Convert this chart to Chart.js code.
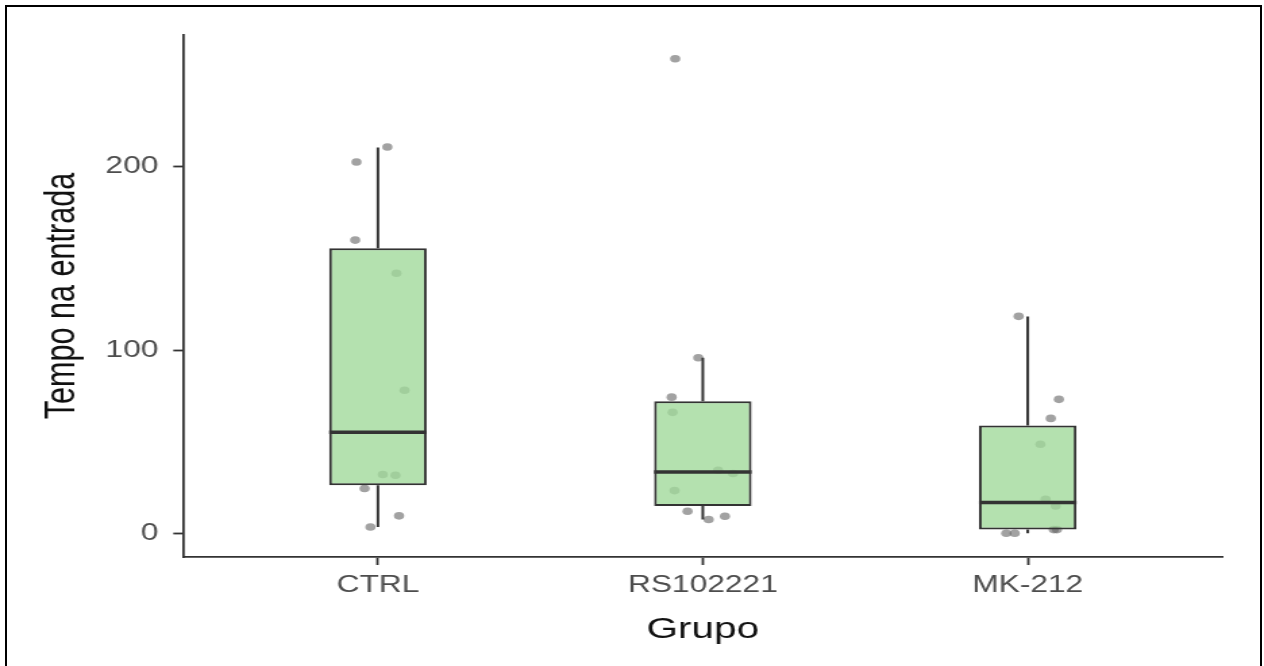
<!DOCTYPE html>
<html>
<head>
<meta charset="utf-8">
<script src="https://cdn.jsdelivr.net/npm/chart.js@4.4.0/dist/chart.umd.min.js"></script>
<style>
  html, body { margin: 0; padding: 0; background: #fff; overflow: hidden; }
  #wrap { position: absolute; left: 0; top: 0; width: 936px; height: 666px; transform: scaleX(1.3504); transform-origin: 0 0; }
  #frame { position: absolute; left: 5px; top: 5px; width: 1253px; height: 720px; border: 2px solid #000; }
</style>
</head>
<body>
<div id="wrap"><canvas id="myChart"></canvas></div>
<div id="frame"></div>
<script>
const grupos = ["CTRL", "RS102221", "MK-212"];
const yTicks = [0, 100, 200];

// tempo de cada animal e deslocamento horizontal (jitter)
const ctrlTempo = [210.8, 202.6, 160, 141.9, 78.1, 32.1, 31.7, 24.4, 9.5, 3.4];
const ctrlJitter = [0.029, -0.066, -0.07, 0.057, 0.082, 0.015, 0.054, -0.041, 0.065, -0.023];
const rsTempo = [259, 95.8, 74.3, 66, 34.4, 32.6, 23.3, 12, 7.5, 9.3];
const rsJitter = [-0.085, -0.014, -0.096, -0.093, 0.047, 0.093, -0.087, -0.047, 0.018, 0.068];
const mkTempo = [118.4, 73.1, 62.7, 48.6, 18.6, 14.9, 2, 2, 0, 0];
const mkJitter = [-0.028, 0.096, 0.071, 0.039, 0.055, 0.086, 0.09, 0.08, -0.066, -0.04];

// caixas
const bigodeMin = [3.4, 7.5, 0];
const q1 = [26.2, 14.9, 2];
const mediana = [55.1, 33.4, 16.8];
const q3 = [155.6, 72.1, 58.8];
const bigodeMax = [210.5, 95.8, 118.3];

const pontos = [];
[[ctrlTempo, ctrlJitter], [rsTempo, rsJitter], [mkTempo, mkJitter]].forEach(([vals, jit], g) => {
  vals.forEach((v, i) => pontos.push({ x: g + 1 + jit[i], y: v }));
});

const caixas = grupos.map((g, i) => ({ x: i + 1, y: [q1[i], q3[i]] }));

const boxExtras = {
  id: "boxExtras",
  afterDatasetsDraw(chart) {
    const ctx = chart.ctx;
    const yS = chart.scales.y;
    const bars = chart.getDatasetMeta(1).data;
    ctx.save();
    ctx.strokeStyle = "#333";
    bars.forEach((bar, i) => {
      ctx.lineWidth = 2;
      ctx.beginPath();
      ctx.moveTo(bar.x, yS.getPixelForValue(q3[i]));
      ctx.lineTo(bar.x, yS.getPixelForValue(bigodeMax[i]));
      ctx.moveTo(bar.x, yS.getPixelForValue(q1[i]));
      ctx.lineTo(bar.x, yS.getPixelForValue(bigodeMin[i]));
      ctx.stroke();
      // mediana
      const ym = yS.getPixelForValue(mediana[i]);
      ctx.lineWidth = 3.5;
      ctx.beginPath();
      ctx.moveTo(bar.x - bar.width / 2, ym);
      ctx.lineTo(bar.x + bar.width / 2, ym);
      ctx.stroke();
    });
    ctx.restore();
  }
};

const fonte = "Liberation Sans, Arial, sans-serif";

const ctx = document.getElementById("myChart").getContext("2d");
const myChart = new Chart(ctx, {
  type: "scatter",
  data: {
    datasets: [
      {
        type: "scatter",
        data: pontos,
        order: 2,
        backgroundColor: "rgba(100,100,100,0.6)",
        borderWidth: 0,
        pointRadius: 3.8,
        pointHoverRadius: 3.8,
      },
      {
        type: "bar",
        data: caixas,
        order: 1,
        backgroundColor: "rgba(161,217,155,0.8)",
        borderColor: "#333",
        borderWidth: 2,
        borderSkipped: false,
        barPercentage: 0.3,
        categoryPercentage: 1,
      },
    ],
  },
  options: {
    responsive: true,
    maintainAspectRatio: false,
    animation: false,
    layout: { padding: { left: 0, top: 35, right: 30.6, bottom: 0 } },
    plugins: { legend: { display: false }, tooltip: { enabled: false } },
    scales: {
      x: {
        type: "linear",
        min: 0.4,
        max: 3.6,
        offset: false,
        afterBuildTicks: (s) => { s.ticks = grupos.map((g, i) => ({ value: i + 1 })); },
        afterFit: (s) => { s.height = 109; },
        ticks: {
          callback: (v) => grupos[v - 1],
          font: { family: fonte, size: 23.5 },
          color: "#4d4d4d",
          padding: 6.6,
          autoSkip: false,
          maxRotation: 0,
        },
        grid: { display: true, offset: false, drawOnChartArea: false, drawTicks: true, tickLength: 8, tickWidth: 1.8, tickColor: "#333" },
        border: { display: true, color: "#333", width: 1.8 },
        title: { display: true, text: "Grupo", font: { family: fonte, size: 30 }, color: "#111", padding: { top: 0, bottom: 18.4 } },
      },
      y: {
        min: -12.95,
        max: 271.95,
        afterBuildTicks: (s) => { s.ticks = yTicks.map((v) => ({ value: v })); },
        afterFit: (s) => { s.width = 135.5; },
        ticks: { font: { family: fonte, size: 23.5 }, color: "#4d4d4d", padding: 11 },
        grid: { display: true, offset: false, drawOnChartArea: false, drawTicks: true, tickLength: 7.2, tickWidth: 1.8, tickColor: "#333" },
        border: { display: true, color: "#333", width: 1.8 },
        title: { display: true, text: "Tempo na entrada", font: { family: fonte, size: 30.6 }, color: "#111", padding: { top: 27.8, bottom: 0 } },
      },
    },
  },
  plugins: [boxExtras],
});
</script>
</body>
</html>
